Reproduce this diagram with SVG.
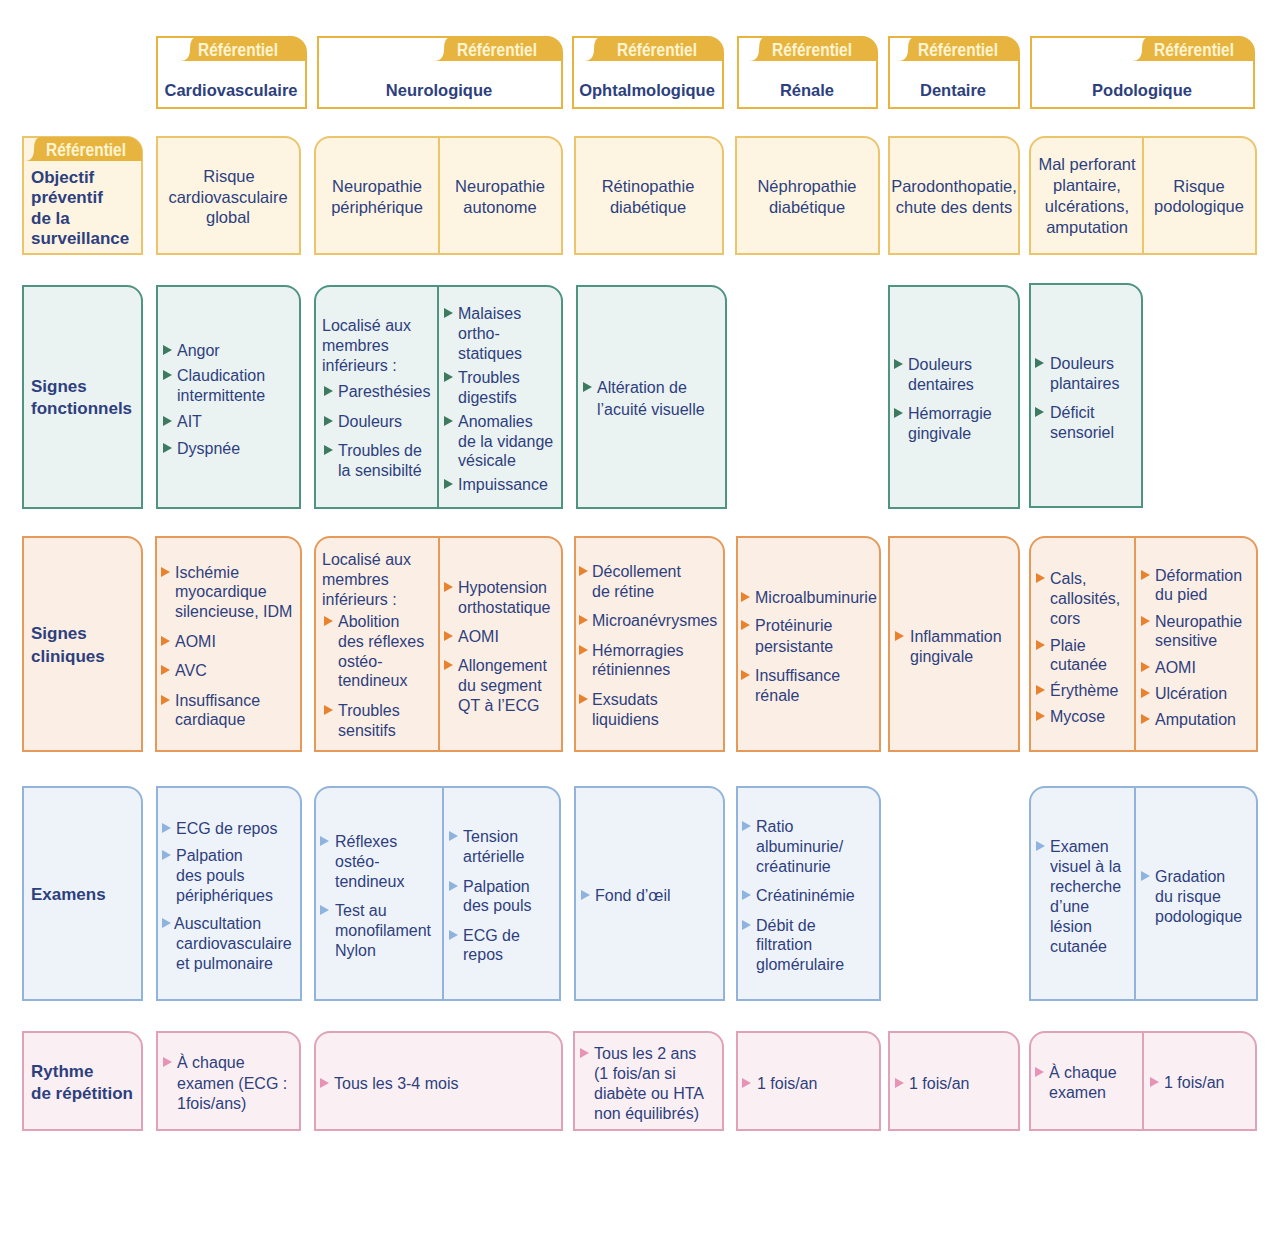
<svg xmlns="http://www.w3.org/2000/svg" xmlns:xlink="http://www.w3.org/1999/xlink" width="1280" height="1244" viewBox="0 0 1280 1244">
<style>
text{font-family:"Liberation Sans",Arial,sans-serif;fill:#2E3F7E;font-size:16px}
.c{text-anchor:middle}
.r2{font-size:16.5px}
.lb{font-weight:bold;font-size:17px}
.hd{font-weight:bold;font-size:16.5px;text-anchor:middle}
.tt{font-family:"Liberation Sans Narrow","Liberation Sans",sans-serif;font-weight:bold;font-size:18px;fill:#FFF4D2;text-anchor:middle}
.hb{fill:#fff;stroke:#E8B440;stroke-width:2}
.tab{fill:#E8B440}
.y{fill:#FDF5E2;stroke:#EBC46C;stroke-width:2}
.yl{stroke:#EBC46C;stroke-width:2}
.g{fill:#EAF2F2;stroke:#4E9480;stroke-width:2}
.gl{stroke:#4E9480;stroke-width:2}
.o{fill:#FBEEE4;stroke:#E59A5A;stroke-width:2}
.ol{stroke:#E59A5A;stroke-width:2}
.b{fill:#EEF3FA;stroke:#92B4DB;stroke-width:2}
.bl{stroke:#92B4DB;stroke-width:2}
.p{fill:#FAF0F3;stroke:#E0A2B8;stroke-width:2}
.pl{stroke:#E0A2B8;stroke-width:2}
.bg{fill:#3D7A60}
.bo{fill:#E8822E}
.bb{fill:#8DB3DE}
.bp{fill:#E693B5}
</style>
<defs>
<path id="tri" d="M0,-5 L9,0 L0,5 Z"/>
</defs>
<rect width="1280" height="1244" fill="#fff"/>

<!-- Header row -->
<g id="hdr-cardio">
<path class="hb" d="M157,37 H291 A15,15 0 0 1 306,52 V108 H157 Z"/>
<path class="tab" d="M197,37 H291 A15,15 0 0 1 306,52 V61 H180 Q190,61 190,49 Q190,37 197,37 Z"/>
<text class="tt" x="238" y="56" textLength="80" lengthAdjust="spacingAndGlyphs">Référentiel</text>
<text class="hd" x="231" y="96">Cardiovasculaire</text>
</g>
<g id="hdr-neuro">
<path class="hb" d="M318,37 H547 A15,15 0 0 1 562,52 V108 H318 Z"/>
<path class="tab" d="M451,37 H547 A15,15 0 0 1 562,52 V61 H434 Q444,61 444,49 Q444,37 451,37 Z"/>
<text class="tt" x="497" y="56" textLength="80" lengthAdjust="spacingAndGlyphs">Référentiel</text>
<text class="hd" x="439" y="96">Neurologique</text>
</g>
<g id="hdr-ophtalmo">
<path class="hb" d="M573,37 H708 A15,15 0 0 1 723,52 V108 H573 Z"/>
<path class="tab" d="M601,37 H708 A15,15 0 0 1 723,52 V61 H584 Q594,61 594,49 Q594,37 601,37 Z"/>
<text class="tt" x="657" y="56" textLength="80" lengthAdjust="spacingAndGlyphs">Référentiel</text>
<text class="hd" x="647" y="96">Ophtalmologique</text>
</g>
<g id="hdr-renale">
<path class="hb" d="M738,37 H862 A15,15 0 0 1 877,52 V108 H738 Z"/>
<path class="tab" d="M766,37 H862 A15,15 0 0 1 877,52 V61 H749 Q759,61 759,49 Q759,37 766,37 Z"/>
<text class="tt" x="812" y="56" textLength="80" lengthAdjust="spacingAndGlyphs">Référentiel</text>
<text class="hd" x="807" y="96">Rénale</text>
</g>
<g id="hdr-dentaire">
<path class="hb" d="M889,37 H1004 A15,15 0 0 1 1019,52 V108 H889 Z"/>
<path class="tab" d="M915,37 H1004 A15,15 0 0 1 1019,52 V61 H898 Q908,61 908,49 Q908,37 915,37 Z"/>
<text class="tt" x="958" y="56" textLength="80" lengthAdjust="spacingAndGlyphs">Référentiel</text>
<text class="hd" x="953" y="96">Dentaire</text>
</g>
<g id="hdr-podo">
<path class="hb" d="M1031,37 H1239 A15,15 0 0 1 1254,52 V108 H1031 Z"/>
<path class="tab" d="M1149,37 H1239 A15,15 0 0 1 1254,52 V61 H1132 Q1142,61 1142,49 Q1142,37 1149,37 Z"/>
<text class="tt" x="1194" y="56" textLength="80" lengthAdjust="spacingAndGlyphs">Référentiel</text>
<text class="hd" x="1142" y="96">Podologique</text>
</g>

<!-- Row 2: Objectif -->
<g id="r2-label">
<path class="y" d="M23,137 H127 A15,15 0 0 1 142,152 V254 H23 Z"/>
<path class="tab" d="M41,137 H127 A15,15 0 0 1 142,152 V161 H25 Q34,161 34,149 Q34,137 41,137 Z"/>
<text class="tt" x="86" y="156" textLength="80" lengthAdjust="spacingAndGlyphs">Référentiel</text>
<text class="lb" x="31" y="183">Objectif</text>
<text class="lb" x="31" y="203">préventif</text>
<text class="lb" x="31" y="224">de la</text>
<text class="lb" x="31" y="244">surveillance</text>
</g>
<g id="r2-cardio">
<path class="y" d="M157,137 H285 A15,15 0 0 1 300,152 V254 H157 Z"/>
<text class="c r2" x="229" y="182">Risque</text>
<text class="c r2" x="228" y="203">cardiovasculaire</text>
<text class="c r2" x="228" y="223">global</text>
</g>
<g id="r2-neuro">
<path class="y" d="M315,152 A15,15 0 0 1 330,137 H547 A15,15 0 0 1 562,152 V254 H315 Z"/>
<line class="yl" x1="439" y1="137" x2="439" y2="254"/>
<text class="c r2" x="377" y="192">Neuropathie</text>
<text class="c r2" x="377" y="213">périphérique</text>
<text class="c r2" x="500" y="192">Neuropathie</text>
<text class="c r2" x="500" y="213">autonome</text>
</g>
<g id="r2-ophtalmo">
<path class="y" d="M575,137 H708 A15,15 0 0 1 723,152 V254 H575 Z"/>
<text class="c r2" x="648" y="192">Rétinopathie</text>
<text class="c r2" x="648" y="213">diabétique</text>
</g>
<g id="r2-renale">
<path class="y" d="M736,137 H864 A15,15 0 0 1 879,152 V254 H736 Z"/>
<text class="c r2" x="807" y="192">Néphropathie</text>
<text class="c r2" x="807" y="213">diabétique</text>
</g>
<g id="r2-dentaire">
<path class="y" d="M889,137 H1004 A15,15 0 0 1 1019,152 V254 H889 Z"/>
<text class="c r2" x="954" y="192">Parodonthopatie,</text>
<text class="c r2" x="954" y="213">chute des dents</text>
</g>
<g id="r2-podo">
<path class="y" d="M1030,152 A15,15 0 0 1 1045,137 H1241 A15,15 0 0 1 1256,152 V254 H1030 Z"/>
<line class="yl" x1="1143" y1="137" x2="1143" y2="254"/>
<text class="c r2" x="1087" y="170">Mal perforant</text>
<text class="c r2" x="1087" y="191">plantaire,</text>
<text class="c r2" x="1087" y="212">ulcérations,</text>
<text class="c r2" x="1087" y="233">amputation</text>
<text class="c r2" x="1199" y="192">Risque</text>
<text class="c r2" x="1199" y="212">podologique</text>
</g>

<!-- Row 3: Signes fonctionnels -->
<g id="r3-label">
<path class="g" d="M23,286 H127 A15,15 0 0 1 142,301 V508 H23 Z"/>
<text class="lb" x="31" y="392">Signes</text>
<text class="lb" x="31" y="414">fonctionnels</text>
</g>
<g id="r3-cardio">
<path class="g" d="M157,286 H285 A15,15 0 0 1 300,301 V508 H157 Z"/>
<use href="#tri" class="bg" x="163" y="350"/><text x="177" y="356">Angor</text>
<use href="#tri" class="bg" x="163" y="375"/><text x="177" y="381">Claudication</text>
<text x="177" y="401">intermittente</text>
<use href="#tri" class="bg" x="163" y="421"/><text x="177" y="427">AIT</text>
<use href="#tri" class="bg" x="163" y="448"/><text x="177" y="454">Dyspnée</text>
</g>
<g id="r3-neuro">
<path class="g" d="M315,301 A15,15 0 0 1 330,286 H547 A15,15 0 0 1 562,301 V508 H315 Z"/>
<line class="gl" x1="438" y1="286" x2="438" y2="508"/>
<text x="322" y="331">Localisé aux</text>
<text x="322" y="351">membres</text>
<text x="322" y="371">inférieurs :</text>
<use href="#tri" class="bg" x="324" y="391"/><text x="338" y="397">Paresthésies</text>
<use href="#tri" class="bg" x="324" y="421"/><text x="338" y="427">Douleurs</text>
<use href="#tri" class="bg" x="324" y="450"/><text x="338" y="456">Troubles de</text>
<text x="338" y="476">la sensibilté</text>
<use href="#tri" class="bg" x="444" y="313"/><text x="458" y="319">Malaises</text>
<text x="458" y="339">ortho-</text>
<text x="458" y="359">statiques</text>
<use href="#tri" class="bg" x="444" y="377"/><text x="458" y="383">Troubles</text>
<text x="458" y="403">digestifs</text>
<use href="#tri" class="bg" x="444" y="421"/><text x="458" y="427">Anomalies</text>
<text x="458" y="447">de la vidange</text>
<text x="458" y="466">vésicale</text>
<use href="#tri" class="bg" x="444" y="484"/><text x="458" y="490">Impuissance</text>
</g>
<g id="r3-ophtalmo">
<path class="g" d="M577,286 H711 A15,15 0 0 1 726,301 V508 H577 Z"/>
<use href="#tri" class="bg" x="583" y="387"/><text x="597" y="393">Altération de</text>
<text x="597" y="415">l’acuité visuelle</text>
</g>
<g id="r3-dentaire">
<path class="g" d="M889,286 H1004 A15,15 0 0 1 1019,301 V508 H889 Z"/>
<use href="#tri" class="bg" x="894" y="364"/><text x="908" y="370">Douleurs</text>
<text x="908" y="390">dentaires</text>
<use href="#tri" class="bg" x="894" y="413"/><text x="908" y="419">Hémorragie</text>
<text x="908" y="439">gingivale</text>
</g>
<g id="r3-podo">
<path class="g" d="M1030,284 H1127 A15,15 0 0 1 1142,299 V507 H1030 Z"/>
<use href="#tri" class="bg" x="1035" y="363"/><text x="1050" y="369">Douleurs</text>
<text x="1050" y="389">plantaires</text>
<use href="#tri" class="bg" x="1035" y="412"/><text x="1050" y="418">Déficit</text>
<text x="1050" y="438">sensoriel</text>
</g>

<!-- Row 4: Signes cliniques -->
<g id="r4-label">
<path class="o" d="M23,537 H127 A15,15 0 0 1 142,552 V751 H23 Z"/>
<text class="lb" x="31" y="639">Signes</text>
<text class="lb" x="31" y="662">cliniques</text>
</g>
<g id="r4-cardio">
<path class="o" d="M156,537 H286 A15,15 0 0 1 301,552 V751 H156 Z"/>
<use href="#tri" class="bo" x="161" y="572"/><text x="175" y="578">Ischémie</text>
<text x="175" y="597">myocardique</text>
<text x="175" y="617">silencieuse, IDM</text>
<use href="#tri" class="bo" x="161" y="641"/><text x="175" y="647">AOMI</text>
<use href="#tri" class="bo" x="161" y="670"/><text x="175" y="676">AVC</text>
<use href="#tri" class="bo" x="161" y="700"/><text x="175" y="706">Insuffisance</text>
<text x="175" y="725">cardiaque</text>
</g>
<g id="r4-neuro">
<path class="o" d="M315,552 A15,15 0 0 1 330,537 H547 A15,15 0 0 1 562,552 V751 H315 Z"/>
<line class="ol" x1="439" y1="537" x2="439" y2="751"/>
<text x="322" y="565">Localisé aux</text>
<text x="322" y="585">membres</text>
<text x="322" y="605">inférieurs :</text>
<use href="#tri" class="bo" x="324" y="621"/><text x="338" y="627">Abolition</text>
<text x="338" y="647">des réflexes</text>
<text x="338" y="667">ostéo-</text>
<text x="338" y="686">tendineux</text>
<use href="#tri" class="bo" x="324" y="710"/><text x="338" y="716">Troubles</text>
<text x="338" y="736">sensitifs</text>
<use href="#tri" class="bo" x="444" y="587"/><text x="458" y="593">Hypotension</text>
<text x="458" y="613">orthostatique</text>
<use href="#tri" class="bo" x="444" y="636"/><text x="458" y="642">AOMI</text>
<use href="#tri" class="bo" x="444" y="665"/><text x="458" y="671">Allongement</text>
<text x="458" y="691">du segment</text>
<text x="458" y="711">QT à l’ECG</text>
</g>
<g id="r4-ophtalmo">
<path class="o" d="M575,537 H709 A15,15 0 0 1 724,552 V751 H575 Z"/>
<use href="#tri" class="bo" x="579" y="571"/><text x="592" y="577">Décollement</text>
<text x="592" y="597">de rétine</text>
<use href="#tri" class="bo" x="579" y="620"/><text x="592" y="626">Microanévrysmes</text>
<use href="#tri" class="bo" x="579" y="650"/><text x="592" y="656">Hémorragies</text>
<text x="592" y="675">rétiniennes</text>
<use href="#tri" class="bo" x="579" y="699"/><text x="592" y="705">Exsudats</text>
<text x="592" y="725">liquidiens</text>
</g>
<g id="r4-renale">
<path class="o" d="M737,537 H865 A15,15 0 0 1 880,552 V751 H737 Z"/>
<use href="#tri" class="bo" x="741" y="597"/><text x="755" y="603">Microalbuminurie</text>
<use href="#tri" class="bo" x="741" y="625"/><text x="755" y="631">Protéinurie</text>
<text x="755" y="652">persistante</text>
<use href="#tri" class="bo" x="741" y="675"/><text x="755" y="681">Insuffisance</text>
<text x="755" y="701">rénale</text>
</g>
<g id="r4-dentaire">
<path class="o" d="M889,537 H1004 A15,15 0 0 1 1019,552 V751 H889 Z"/>
<use href="#tri" class="bo" x="895" y="636"/><text x="910" y="642">Inflammation</text>
<text x="910" y="662">gingivale</text>
</g>
<g id="r4-podo">
<path class="o" d="M1030,552 A15,15 0 0 1 1045,537 H1242 A15,15 0 0 1 1257,552 V751 H1030 Z"/>
<line class="ol" x1="1135" y1="537" x2="1135" y2="751"/>
<use href="#tri" class="bo" x="1036" y="578"/><text x="1050" y="584">Cals,</text>
<text x="1050" y="604">callosités,</text>
<text x="1050" y="624">cors</text>
<use href="#tri" class="bo" x="1036" y="645"/><text x="1050" y="651">Plaie</text>
<text x="1050" y="670">cutanée</text>
<use href="#tri" class="bo" x="1036" y="690"/><text x="1050" y="696">Érythème</text>
<use href="#tri" class="bo" x="1036" y="716"/><text x="1050" y="722">Mycose</text>
<use href="#tri" class="bo" x="1141" y="575"/><text x="1155" y="581">Déformation</text>
<text x="1155" y="600">du pied</text>
<use href="#tri" class="bo" x="1141" y="621"/><text x="1155" y="627">Neuropathie</text>
<text x="1155" y="646">sensitive</text>
<use href="#tri" class="bo" x="1141" y="667"/><text x="1155" y="673">AOMI</text>
<use href="#tri" class="bo" x="1141" y="693"/><text x="1155" y="699">Ulcération</text>
<use href="#tri" class="bo" x="1141" y="719"/><text x="1155" y="725">Amputation</text>
</g>

<!-- Row 5: Examens -->
<g id="r5-label">
<path class="b" d="M23,787 H127 A15,15 0 0 1 142,802 V1000 H23 Z"/>
<text class="lb" x="31" y="900">Examens</text>
</g>
<g id="r5-cardio">
<path class="b" d="M157,787 H286 A15,15 0 0 1 301,802 V1000 H157 Z"/>
<use href="#tri" class="bb" x="162" y="828"/><text x="176" y="834">ECG de repos</text>
<use href="#tri" class="bb" x="162" y="855"/><text x="176" y="861">Palpation</text>
<text x="176" y="881">des pouls</text>
<text x="176" y="901">périphériques</text>
<use href="#tri" class="bb" x="162" y="923"/><text x="174" y="929">Auscultation</text>
<text x="176" y="949">cardiovasculaire</text>
<text x="176" y="969">et pulmonaire</text>
</g>
<g id="r5-neuro">
<path class="b" d="M315,802 A15,15 0 0 1 330,787 H545 A15,15 0 0 1 560,802 V1000 H315 Z"/>
<line class="bl" x1="443" y1="787" x2="443" y2="1000"/>
<use href="#tri" class="bb" x="320" y="841"/><text x="335" y="847">Réflexes</text>
<text x="335" y="867">ostéo-</text>
<text x="335" y="887">tendineux</text>
<use href="#tri" class="bb" x="320" y="910"/><text x="335" y="916">Test au</text>
<text x="335" y="936">monofilament</text>
<text x="335" y="956">Nylon</text>
<use href="#tri" class="bb" x="449" y="836"/><text x="463" y="842">Tension</text>
<text x="463" y="862">artérielle</text>
<use href="#tri" class="bb" x="449" y="886"/><text x="463" y="892">Palpation</text>
<text x="463" y="911">des pouls</text>
<use href="#tri" class="bb" x="449" y="935"/><text x="463" y="941">ECG de</text>
<text x="463" y="960">repos</text>
</g>
<g id="r5-ophtalmo">
<path class="b" d="M575,787 H709 A15,15 0 0 1 724,802 V1000 H575 Z"/>
<use href="#tri" class="bb" x="581" y="895"/><text x="595" y="901">Fond d’œil</text>
</g>
<g id="r5-renale">
<path class="b" d="M737,787 H865 A15,15 0 0 1 880,802 V1000 H737 Z"/>
<use href="#tri" class="bb" x="742" y="826"/><text x="756" y="832">Ratio</text>
<text x="756" y="852">albuminurie/</text>
<text x="756" y="872">créatinurie</text>
<use href="#tri" class="bb" x="742" y="895"/><text x="756" y="901">Créatininémie</text>
<use href="#tri" class="bb" x="742" y="925"/><text x="756" y="931">Débit de</text>
<text x="756" y="950">filtration</text>
<text x="756" y="970">glomérulaire</text>
</g>
<g id="r5-podo">
<path class="b" d="M1030,802 A15,15 0 0 1 1045,787 H1242 A15,15 0 0 1 1257,802 V1000 H1030 Z"/>
<line class="bl" x1="1135" y1="787" x2="1135" y2="1000"/>
<use href="#tri" class="bb" x="1036" y="846"/><text x="1050" y="852">Examen</text>
<text x="1050" y="872">visuel à la</text>
<text x="1050" y="892">recherche</text>
<text x="1050" y="912">d’une</text>
<text x="1050" y="932">lésion</text>
<text x="1050" y="952">cutanée</text>
<use href="#tri" class="bb" x="1141" y="876"/><text x="1155" y="882">Gradation</text>
<text x="1155" y="902">du risque</text>
<text x="1155" y="922">podologique</text>
</g>

<!-- Row 6: Rythme -->
<g id="r6-label">
<path class="p" d="M23,1032 H127 A15,15 0 0 1 142,1047 V1130 H23 Z"/>
<text class="lb" x="31" y="1077">Rythme</text>
<text class="lb" x="31" y="1099">de répétition</text>
</g>
<g id="r6-cardio">
<path class="p" d="M157,1032 H285 A15,15 0 0 1 300,1047 V1130 H157 Z"/>
<use href="#tri" class="bp" x="163" y="1062"/><text x="177" y="1068">À chaque</text>
<text x="177" y="1089">examen (ECG :</text>
<text x="177" y="1109">1fois/ans)</text>
</g>
<g id="r6-neuro">
<path class="p" d="M315,1047 A15,15 0 0 1 330,1032 H547 A15,15 0 0 1 562,1047 V1130 H315 Z"/>
<use href="#tri" class="bp" x="320" y="1083"/><text x="334" y="1089">Tous les 3-4 mois</text>
</g>
<g id="r6-ophtalmo">
<path class="p" d="M574,1032 H708 A15,15 0 0 1 723,1047 V1130 H574 Z"/>
<use href="#tri" class="bp" x="580" y="1053"/><text x="594" y="1059">Tous les 2 ans</text>
<text x="594" y="1079">(1 fois/an si</text>
<text x="594" y="1099">diabète ou HTA</text>
<text x="594" y="1119">non équilibrés)</text>
</g>
<g id="r6-renale">
<path class="p" d="M737,1032 H865 A15,15 0 0 1 880,1047 V1130 H737 Z"/>
<use href="#tri" class="bp" x="742" y="1083"/><text x="757" y="1089">1 fois/an</text>
</g>
<g id="r6-dentaire">
<path class="p" d="M889,1032 H1004 A15,15 0 0 1 1019,1047 V1130 H889 Z"/>
<use href="#tri" class="bp" x="895" y="1083"/><text x="909" y="1089">1 fois/an</text>
</g>
<g id="r6-podo">
<path class="p" d="M1030,1047 A15,15 0 0 1 1045,1032 H1241 A15,15 0 0 1 1256,1047 V1130 H1030 Z"/>
<line class="pl" x1="1143" y1="1032" x2="1143" y2="1130"/>
<use href="#tri" class="bp" x="1035" y="1072"/><text x="1049" y="1078">À chaque</text>
<text x="1049" y="1098">examen</text>
<use href="#tri" class="bp" x="1150" y="1082"/><text x="1164" y="1088">1 fois/an</text>
</g>

<g id="connectors"/>
</svg>
